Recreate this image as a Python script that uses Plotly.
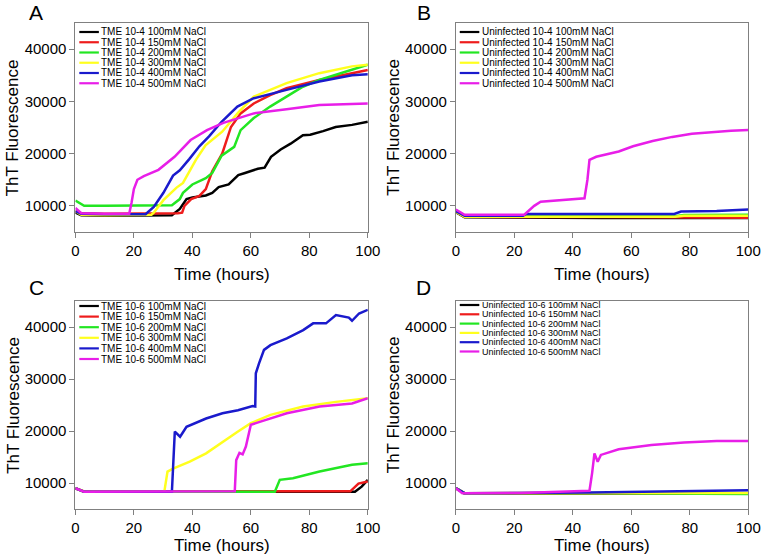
import plotly.graph_objects as go
from plotly.subplots import make_subplots

W, H = 773, 557

# ---- values (time in hours, ThT fluorescence) ----
salts = ['100mM', '150mM', '200mM', '300mM', '400mM', '500mM']
colors = ['#000000', '#ee1c1c', '#22e622', '#ffff1e', '#1a1acc', '#e81ee8']

# Panel A: TME 10-4
A100_t = [0, 2, 10, 20, 30, 33, 35.7, 38, 40, 44.6, 46.8, 49, 52.4, 55.7, 58, 62.4, 64.7, 66.9, 70.2, 73.6,
          77.8, 80.3, 84.7, 89, 94.6, 100]
A100_y = [8700, 8200, 8100, 8100, 8100, 8200, 9400, 11300, 11600, 12000, 12500, 13600, 14100, 15900, 16300,
          17100, 17300, 19400, 20800, 21900, 23500, 23600, 24300, 25100, 25500, 26100]
A150_t = [0, 2, 10, 20, 30, 35, 36.5, 37.3, 39.6, 42.4, 44.6, 46.8, 50.2, 53.2, 56.5, 61, 66.6, 72.2, 83.4,
          94.6, 100]
A150_y = [9000, 8600, 8500, 8500, 8600, 8600, 8700, 10000, 11300, 11900, 13200, 16600, 20000, 25100, 27700,
          29600, 31200, 32500, 34100, 35400, 36000]
A200_t = [0, 3, 10, 20, 30, 33, 35.7, 36.8, 40, 44.6, 46.8, 50, 54.3, 56.5, 61, 66.6, 72.2, 77.8, 83.4, 94.6,
          100]
A200_y = [11000, 10000, 10000, 10000, 10000, 10100, 11300, 12500, 14100, 15300, 16300, 19600, 21300, 24500,
          26800, 29000, 30900, 32800, 34100, 36000, 37000]
A300_t = [0, 2, 10, 20, 26, 26.8, 30.1, 34.6, 36.8, 41.2, 44.5, 50.2, 55.6, 61, 72.2, 83.4, 94.6, 100]
A300_y = [9000, 8300, 8200, 8200, 8300, 8700, 11100, 13500, 14400, 18800, 21600, 24200, 27800, 30900, 33500,
          35400, 36700, 37000]
A400_t = [0, 2, 10, 20, 24, 26.8, 30.1, 33.4, 35.7, 39, 42.4, 45.7, 50, 55.4, 61, 72.2, 83.4, 94.6, 100]
A400_y = [9000, 8500, 8400, 8400, 8400, 9800, 12500, 15800, 16800, 19000, 21400, 23300, 26100, 29000, 30600,
          32200, 33800, 35000, 35200]
A500_t = [0, 2, 10, 18.4, 19.2, 20, 21.2, 23.4, 28.4, 33.9, 39.4, 45, 50.6, 61, 72.2, 83.4, 100]
A500_y = [9600, 8600, 8500, 8500, 10600, 13200, 15000, 15700, 16900, 19400, 22600, 24500, 25900, 27700,
          28500, 29300, 29600]

# Panel B: Uninfected 10-4
B100_t = [0, 3, 50, 100]
B100_y = [8800, 7800, 7700, 7700]
B150_t = [0, 3, 50, 100]
B150_y = [8900, 7900, 7850, 7750]
B200_t = [0, 3, 50, 75, 78, 100]
B200_y = [8900, 8000, 8000, 8000, 8250, 8300]
B300_t = [0, 3, 50, 75, 78, 100]
B300_y = [8900, 7900, 7900, 7900, 8100, 8100]
B400_t = [0, 3, 23, 24, 50, 74.7, 77, 89.2, 100]
B400_y = [9000, 8100, 8100, 8450, 8450, 8450, 8900, 9000, 9300]
B500_t = [0, 3, 23.4, 26.8, 29, 33.4, 39, 44, 45, 45.7, 48, 55.7, 60.6, 67.3, 74, 80.7, 87.4, 94.1, 100]
B500_y = [9300, 8300, 8300, 10000, 10800, 11000, 11260, 11450, 15000, 18800, 19400, 20400, 21400, 22400,
          23200, 23800, 24100, 24400, 24500]

# Panel C: TME 10-6
C100_t = [0, 3, 50, 95.6, 97.9, 100]
C100_y = [9000, 8300, 8300, 8300, 9300, 10600]
C150_t = [0, 3, 50, 94, 96.8, 100]
C150_y = [9000, 8400, 8400, 8400, 9900, 10300]
C200_t = [0, 3, 50, 68.2, 69.9, 74.4, 83.5, 94.6, 100]
C200_y = [9000, 8300, 8300, 8300, 10600, 10900, 12200, 13500, 13800]
C300_t = [0, 3, 30.4, 31.5, 33.6, 39.1, 44.7, 50.3, 55.6, 60, 66.7, 77.9, 89.1, 100]
C300_y = [9000, 8300, 8300, 12200, 12800, 14100, 15700, 17900, 19900, 21500, 23100, 24700, 25600, 26300]
C400_t = [0, 3, 33, 34, 35.8, 38, 44.7, 50.3, 55.6, 60.6, 61.5, 61.7, 62.8, 64.5, 66.7, 72.3, 77.9, 81.3,
          85.7, 89.1, 93.5, 94.6, 97, 100]
C400_y = [9000, 8300, 8300, 19900, 18900, 20800, 22400, 23400, 24000, 24800, 24700, 31100, 33000, 35600,
          36500, 37800, 39400, 40700, 40700, 42300, 41800, 41200, 42600, 43300]
C500_t = [0, 3, 54.5, 55, 56.1, 57.2, 58.3, 60, 63.3, 72.3, 83.5, 94.6, 100]
C500_y = [9000, 8300, 8400, 14400, 15800, 15500, 17000, 21200, 21800, 23400, 24700, 25300, 26300]

# Panel D: Uninfected 10-6
D100_t = [0, 3, 50, 100]
D100_y = [9000, 8000, 8000, 8000]
D150_t = [0, 3, 50, 100]
D150_y = [9000, 8000, 8050, 8000]
D200_t = [0, 3, 50, 100]
D200_y = [9000, 8000, 8050, 7900]
D300_t = [0, 3, 50, 100]
D300_y = [9000, 8050, 8100, 8100]
D400_t = [0, 3, 46, 60, 78, 100]
D400_y = [9000, 8050, 8150, 8250, 8460, 8590]
D500_t = [0, 2.2, 22.3, 45.7, 46.6, 47.4, 48.5, 49.6, 55.7, 66.9, 78, 89.2, 100]
D500_y = [8980, 8020, 8100, 8520, 11900, 15700, 14100, 15400, 16500, 17300, 17800, 18100, 18100]

panels = [
    ('A', 'TME 10-4', [(A100_t, A100_y), (A150_t, A150_y), (A200_t, A200_y), (A300_t, A300_y),
                       (A400_t, A400_y), (A500_t, A500_y)]),
    ('B', 'Uninfected 10-4', [(B100_t, B100_y), (B150_t, B150_y), (B200_t, B200_y), (B300_t, B300_y),
                              (B400_t, B400_y), (B500_t, B500_y)]),
    ('C', 'TME 10-6', [(C100_t, C100_y), (C150_t, C150_y), (C200_t, C200_y), (C300_t, C300_y),
                       (C400_t, C400_y), (C500_t, C500_y)]),
    ('D', 'Uninfected 10-6', [(D100_t, D100_y), (D150_t, D150_y), (D200_t, D200_y), (D300_t, D300_y),
                              (D400_t, D400_y), (D500_t, D500_y)]),
]

x_ticks = [0, 20, 40, 60, 80, 100]
y_ticks = [10000, 20000, 30000, 40000]


def px(x):
    return x / W


def py(y):
    return 1 - y / H


# pixel boxes of the four plot areas: left, right, top, bottom
boxes = [(73, 372, 23, 232), (462, 761, 23, 232), (73, 372, 301, 509), (462, 761, 301, 509)]
cells = [(1, 1), (1, 2), (2, 1), (2, 2)]
# legend geometry: first row centre, row step, font size
legend_rows = [(32, 10.25, 10), (32, 10.25, 10), (306, 10.6, 10), (305, 9.3, 9)]
# letter positions and x-title heights
letters = [(33, 12), (429, 12), (33, 287), (429, 287)]
xlab_y = [275, 275, 545, 545]

fig = make_subplots(rows=2, cols=2)
ann = []
shapes = []

for k, (letter, prefix, series) in enumerate(panels):
    r, c = cells[k]
    l, rgt, top, bot = boxes[k]
    y0, dy, fs = legend_rows[k]
    for i, (t, y) in enumerate(series):
        fig.add_trace(go.Scatter(x=t, y=y, mode='lines', name=f'{prefix} {salts[i]} NaCl',
                                 line=dict(color=colors[i], width=2.5), showlegend=False), row=r, col=c)
        # compact legend drawn by hand (plotly's own legend rows are too tall)
        yy = y0 + dy * i
        shapes.append(dict(type='line', xref='paper', yref='paper', x0=px(l + 4), x1=px(l + 24),
                           y0=py(yy), y1=py(yy), line=dict(color=colors[i], width=2.2)))
        ann.append(dict(text=f'{prefix} {salts[i]} NaCl', xref='paper', yref='paper', x=px(l + 24.5), y=py(yy),
                        xanchor='left', yanchor='middle', showarrow=False,
                        font=dict(size=fs, color='black', family='Arial')))

    fig.update_xaxes(domain=[px(l), px(rgt)], range=[0, 100], tickvals=x_ticks, row=r, col=c)
    fig.update_yaxes(domain=[py(bot), py(top)], range=[5000, 45000], tickvals=y_ticks, tickformat='d',
                     row=r, col=c)

    ann.append(dict(text=letter, xref='paper', yref='paper', x=px(letters[k][0]), y=py(letters[k][1]),
                    xanchor='center', yanchor='middle', showarrow=False,
                    font=dict(size=21, color='black', family='Arial')))
    ann.append(dict(text='Time (hours)', xref='paper', yref='paper', x=px((l + rgt) / 2), y=py(xlab_y[k]),
                    xanchor='center', yanchor='middle', showarrow=False,
                    font=dict(size=17, color='black', family='Arial')))
    ann.append(dict(text='ThT Fluorescence', xref='paper', yref='paper', x=px(l - 64), y=py((top + bot) / 2),
                    xanchor='center', yanchor='middle', textangle=-90, showarrow=False,
                    font=dict(size=17, color='black', family='Arial')))

fig.update_xaxes(showline=True, mirror=True, linecolor='#808080', linewidth=1, ticks='outside',
                 tickcolor='#808080', ticklen=5, showgrid=False, zeroline=False,
                 tickfont=dict(size=15, color='black', family='Arial'))
fig.update_yaxes(showline=True, mirror=True, linecolor='#808080', linewidth=1, ticks='outside',
                 tickcolor='#808080', ticklen=5, showgrid=False, zeroline=False,
                 tickfont=dict(size=15, color='black', family='Arial'))

fig.update_layout(width=W, height=H, margin=dict(l=0, r=0, t=0, b=0), plot_bgcolor='white',
                  paper_bgcolor='white', showlegend=False, annotations=ann, shapes=shapes)

# the page body has an 8px default margin; drop it so the figure sits at the window's corner
fig.write_html("out.html", config={'displayModeBar': False},
               post_script="document.body.style.margin='0';")
